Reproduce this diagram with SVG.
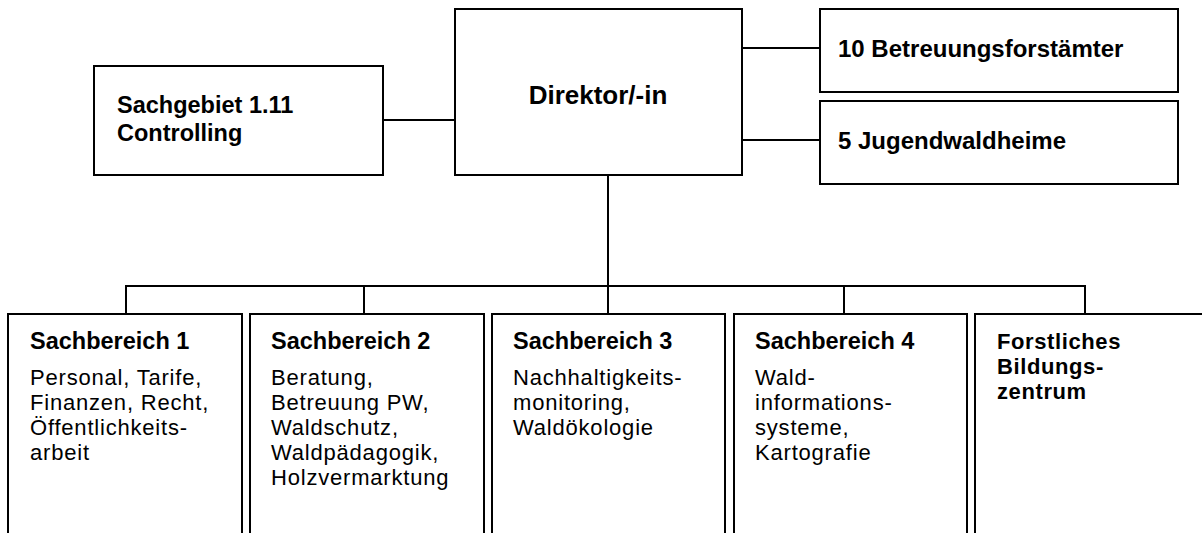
<svg xmlns="http://www.w3.org/2000/svg" width="1202" height="533" viewBox="0 0 1202 533">
<style>
.box{fill:#fff;stroke:#000;stroke-width:2}
.ln{fill:none;stroke:#000;stroke-width:2}
.b{font-family:"Liberation Sans",Arial,sans-serif;font-weight:bold;font-size:23.5px;fill:#000}
.f{font-family:"Liberation Sans",Arial,sans-serif;font-weight:bold;font-size:22px;letter-spacing:0.6px;fill:#000}
.r{font-family:"Liberation Sans",Arial,sans-serif;font-weight:bold;font-size:24px;fill:#000}
.t{font-family:"Liberation Sans",Arial,sans-serif;font-size:22px;letter-spacing:0.8px;fill:#000}
.d{font-family:"Liberation Sans",Arial,sans-serif;font-weight:bold;font-size:26px;fill:#000}
</style>
<rect width="1202" height="533" fill="#fff"/>
<g id="connectors">
<line class="ln" x1="383" y1="120" x2="455" y2="120"/>
<line class="ln" x1="742" y1="48" x2="820" y2="48"/>
<line class="ln" x1="742" y1="140" x2="820" y2="140"/>
<line class="ln" x1="608" y1="175" x2="608" y2="314"/>
<polyline class="ln" points="126,314 126,286 1085,286 1085,314"/>
<line class="ln" x1="364" y1="286" x2="364" y2="314"/>
<line class="ln" x1="844" y1="286" x2="844" y2="314"/>
</g>
<g id="controlling">
<rect class="box" x="94" y="66" width="289" height="109"/>
<text class="b" x="117" y="113">Sachgebiet 1.11</text>
<text class="b" x="117" y="141">Controlling</text>
</g>
<g id="direktor">
<rect class="box" x="455" y="9" width="287" height="166"/>
<text class="d" x="598" y="104" text-anchor="middle">Direktor/-in</text>
</g>
<g id="forstaemter">
<rect class="box" x="820" y="9" width="358" height="83"/>
<text class="r" x="838" y="57">10 Betreuungsforstämter</text>
</g>
<g id="jugendwaldheime">
<rect class="box" x="820" y="101" width="358" height="83"/>
<text class="r" x="838" y="149">5 Jugendwaldheime</text>
</g>
<g id="sb1">
<rect class="box" x="8" y="314" width="234" height="240"/>
<text class="b" x="30" y="349">Sachbereich 1</text>
<text class="t" x="30" y="385">Personal, Tarife,</text>
<text class="t" x="30" y="410">Finanzen, Recht,</text>
<text class="t" x="30" y="435">Öffentlichkeits-</text>
<text class="t" x="30" y="460">arbeit</text>
</g>
<g id="sb2">
<rect class="box" x="250" y="314" width="234" height="240"/>
<text class="b" x="271" y="349">Sachbereich 2</text>
<text class="t" x="271" y="385">Beratung,</text>
<text class="t" x="271" y="410">Betreuung PW,</text>
<text class="t" x="271" y="435">Waldschutz,</text>
<text class="t" x="271" y="460">Waldpädagogik,</text>
<text class="t" x="271" y="485">Holzvermarktung</text>
</g>
<g id="sb3">
<rect class="box" x="492" y="314" width="233" height="240"/>
<text class="b" x="513" y="349">Sachbereich 3</text>
<text class="t" x="513" y="385">Nachhaltigkeits-</text>
<text class="t" x="513" y="410">monitoring,</text>
<text class="t" x="513" y="435">Waldökologie</text>
</g>
<g id="sb4">
<rect class="box" x="734" y="314" width="233" height="240"/>
<text class="b" x="755" y="349">Sachbereich 4</text>
<text class="t" x="755" y="385">Wald-</text>
<text class="t" x="755" y="410">informations-</text>
<text class="t" x="755" y="435">systeme,</text>
<text class="t" x="755" y="460">Kartografie</text>
</g>
<g id="fbz">
<rect class="box" x="975" y="314" width="240" height="240"/>
<text class="f" x="997" y="349">Forstliches</text>
<text class="f" x="997" y="374">Bildungs-</text>
<text class="f" x="997" y="399">zentrum</text>
</g>
</svg>
